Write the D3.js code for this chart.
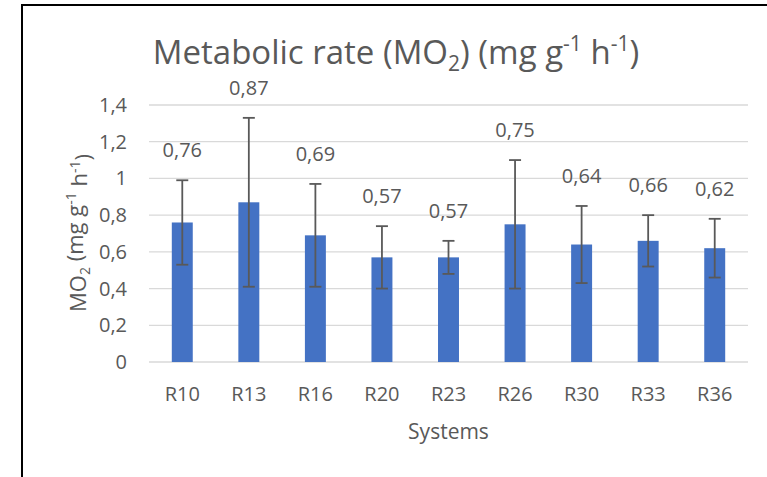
<!DOCTYPE html>
<html>
<head>
<meta charset="utf-8">
<script src="https://cdn.jsdelivr.net/npm/d3@7"></script>
<style>
  body { margin: 0; background: #fff; }
  text { font-family: "Open Sans", "Noto Sans", sans-serif; fill: #595959; }
</style>
</head>
<body>
<div id="main-vis"></div>
<script>
const systems = ['R10', 'R13', 'R16', 'R20', 'R23', 'R26', 'R30', 'R33', 'R36']
const means = [0.76, 0.87, 0.69, 0.57, 0.57, 0.75, 0.64, 0.66, 0.62]
const errors = [0.23, 0.46, 0.28, 0.17, 0.09, 0.35, 0.21, 0.14, 0.16]
const yTicks = [0, 0.2, 0.4, 0.6, 0.8, 1, 1.2, 1.4]

window.onload = setup

function setup () {
    const W = 767, H = 477
    const m = {left: 149, right: 19, top: 105, bottom: 115}

    const svg = d3.select('#main-vis').append('svg')
        .attr('width', W)
        .attr('height', H)

    // outer frame (cropped on right/bottom)
    svg.append('rect')
        .attr('x', 22).attr('y', 5)
        .attr('width', W).attr('height', H)
        .attr('fill', 'none').attr('stroke', '#000').attr('stroke-width', 2)

    const x = d3.scaleBand().domain(systems).range([m.left, W - m.right])
    const y = d3.scaleLinear().domain([0, 1.4]).range([H - m.bottom, m.top])
    const comma = d => d3.format('.2~f')(d).replace('.', ',')

    // gridlines
    svg.append('g').selectAll('line')
        .data(yTicks)
        .join('line')
            .attr('x1', m.left).attr('x2', W - m.right)
            .attr('y1', d => y(d)).attr('y2', d => y(d))
            .attr('stroke', '#d9d9d9').attr('stroke-width', 1.3)

    // y tick labels
    svg.append('g').selectAll('text')
        .data(yTicks)
        .join('text')
            .attr('x', m.left - 22)
            .attr('y', d => y(d))
            .attr('dy', '0.35em')
            .attr('text-anchor', 'end')
            .attr('font-size', 20)
            .text(d => comma(d))

    const bw = x.bandwidth() * 0.315
    const rows = systems.map((s, i) => ({s, v: means[i], e: errors[i]}))

    svg.append('g').selectAll('rect')
        .data(rows)
        .join('rect')
            .attr('x', d => x(d.s) + x.bandwidth() / 2 - bw / 2)
            .attr('y', d => y(d.v))
            .attr('width', bw)
            .attr('height', d => y(0) - y(d.v))
            .attr('fill', '#4472c4')

    // error bars
    const eb = svg.append('g').attr('stroke', '#595959').attr('stroke-width', 1.8)
    const cx = d => x(d.s) + x.bandwidth() / 2
    eb.selectAll('.v').data(rows).join('line')
        .attr('x1', cx).attr('x2', cx)
        .attr('y1', d => y(d.v + d.e)).attr('y2', d => y(d.v - d.e))
    eb.selectAll('.t').data(rows).join('line')
        .attr('x1', d => cx(d) - 6).attr('x2', d => cx(d) + 6)
        .attr('y1', d => y(d.v + d.e)).attr('y2', d => y(d.v + d.e))
    eb.selectAll('.b').data(rows).join('line')
        .attr('x1', d => cx(d) - 6).attr('x2', d => cx(d) + 6)
        .attr('y1', d => y(d.v - d.e)).attr('y2', d => y(d.v - d.e))

    // value labels
    svg.append('g').selectAll('text')
        .data(rows)
        .join('text')
            .attr('x', cx)
            .attr('y', d => y(d.v + d.e) - 30)
            .attr('dy', '0.35em')
            .attr('text-anchor', 'middle')
            .attr('font-size', 20)
            .text(d => comma(d.v))

    // x tick labels
    svg.append('g').selectAll('text')
        .data(systems)
        .join('text')
            .attr('x', d => x(d) + x.bandwidth() / 2)
            .attr('y', H - m.bottom + 32)
            .attr('dy', '0.35em')
            .attr('text-anchor', 'middle')
            .attr('font-size', 20)
            .text(d => d)

    // axis titles
    svg.append('text')
        .attr('x', (m.left + W - m.right) / 2).attr('y', 432)
        .attr('dy', '0.35em')
        .attr('text-anchor', 'middle')
        .attr('font-size', 21)
        .text('Systems')

    const yt = svg.append('text')
        .attr('transform', 'translate(78,233) rotate(-90)')
        .attr('dy', '0.35em')
        .attr('text-anchor', 'middle')
        .attr('font-size', 22)
    yt.append('tspan').text('MO')
    yt.append('tspan').attr('font-size', 14).attr('dy', '0.3em').text('2')
    yt.append('tspan').attr('dy', '-0.3em').text(' (mg g')
    yt.append('tspan').attr('font-size', 14).attr('dy', '-0.5em').text('-1')
    yt.append('tspan').attr('dy', '0.5em').text(' h')
    yt.append('tspan').attr('font-size', 14).attr('dy', '-0.5em').text('-1')
    yt.append('tspan').attr('dy', '0.5em').text(')')

    // chart title
    const t = svg.append('text')
        .attr('x', 396).attr('y', 64)
        .attr('text-anchor', 'middle')
        .attr('font-size', 33)
    t.append('tspan').text('Metabolic rate (MO')
    t.append('tspan').attr('font-size', 21).attr('dy', 7).text('2')
    t.append('tspan').attr('dy', -7).text(') (mg g')
    t.append('tspan').attr('font-size', 21).attr('dy', -13).text('-1')
    t.append('tspan').attr('dy', 13).text(' h')
    t.append('tspan').attr('font-size', 21).attr('dy', -13).text('-1')
    t.append('tspan').attr('dy', 13).text(')')
}
</script>
</body>
</html>
